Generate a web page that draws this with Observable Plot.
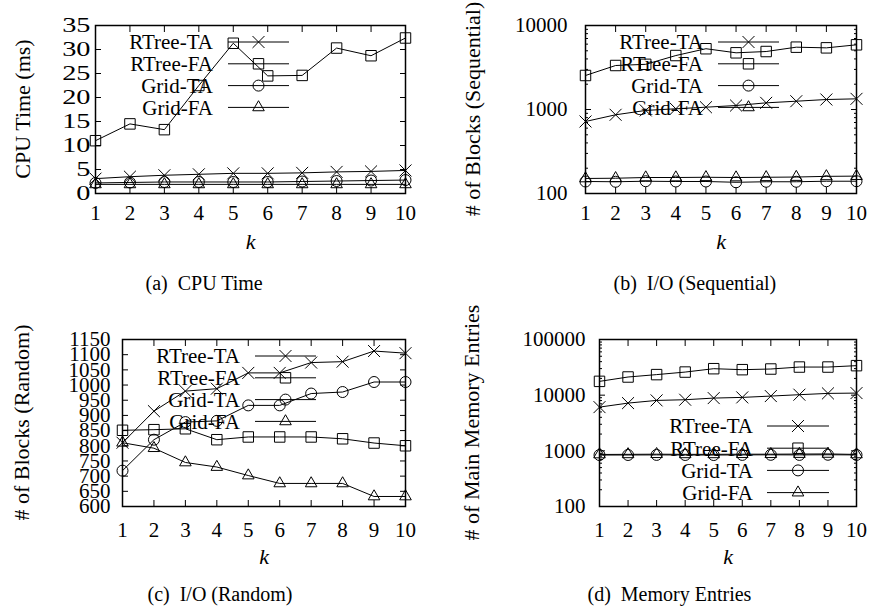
<!DOCTYPE html>
<html><head><meta charset="utf-8">
<script src="https://cdn.jsdelivr.net/npm/d3@7"></script>
<script src="https://cdn.jsdelivr.net/npm/@observablehq/plot@0.6"></script>
<style>
body{margin:0;background:#fff;}
#fig{position:relative;width:869px;height:616px;overflow:hidden;background:#fff;}
#fig svg{position:absolute;}
#fig svg, #fig svg text{font-family:'Liberation Serif','Times New Roman',serif !important;}
</style></head><body><div id="fig"></div>
<script>
// ---------- data ----------
const ks = [1, 2, 3, 4, 5, 6, 7, 8, 9, 10];
const seriesNames = ["RTree-TA", "RTree-FA", "Grid-TA", "Grid-FA"];
const seriesSymbols = ["times", "square", "circle", "triangle"];

// (a) CPU time (ms)
const cpuRTreeTA = [3.1, 3.5, 3.8, 4.0, 4.2, 4.2, 4.3, 4.5, 4.6, 4.8];
const cpuRTreeFA = [11.0, 14.5, 13.3, 22.5, 31.3, 24.5, 24.6, 30.3, 28.7, 32.4];
const cpuGridTA = [2.2, 2.3, 2.4, 2.4, 2.4, 2.4, 2.5, 2.6, 2.7, 2.8];
const cpuGridFA = [1.9, 1.9, 1.9, 1.9, 1.9, 1.9, 1.9, 1.9, 1.9, 1.9];
const cpuTicks = [0, 5, 10, 15, 20, 25, 30, 35];

// (b) I/O sequential (# blocks)
const seqRTreeTA = [720, 865, 975, 1020, 1065, 1115, 1200, 1255, 1315, 1340];
const seqRTreeFA = [2540, 3340, 3450, 4390, 5290, 4730, 4900, 5520, 5420, 5890];
const seqGridTA = [139, 138, 140, 139, 139, 136, 138, 138, 140, 140];
const seqGridFA = [151, 152, 155, 155, 156, 155, 156, 157, 160, 161];
const seqTicks = [100, 1000, 10000];
const seqMinorTicks = [200, 300, 400, 500, 600, 700, 800, 900, 2000, 3000, 4000, 5000, 6000, 7000, 8000, 9000];

// (c) I/O random (# blocks)
const rndRTreeTA = [810, 914, 980, 988, 1040, 1040, 1074, 1077, 1112, 1105];
const rndRTreeFA = [851, 853, 856, 820, 829, 829, 829, 823, 809, 800];
const rndGridTA = [718, 820, 878, 882, 933, 933, 972, 977, 1010, 1010];
const rndGridFA = [810, 792, 745, 730, 702, 676, 676, 676, 633, 633];
const rndTicks = [600, 650, 700, 750, 800, 850, 900, 950, 1000, 1050, 1100, 1150];

// (d) main memory entries
const memRTreeTA = [6100, 7200, 8050, 8280, 8860, 9120, 9630, 10200, 10760, 10900];
const memRTreeFA = [17700, 21200, 23400, 26000, 29900, 28700, 29500, 32000, 32000, 33900];
const memGridTA = [840, 842, 845, 842, 840, 845, 848, 845, 850, 845];
const memGridFA = [860, 865, 870, 865, 865, 870, 870, 875, 880, 862];
const memTicks = [100, 1000, 10000, 100000];
const memMinorTicks = [200, 300, 400, 500, 600, 700, 800, 900, 2000, 3000, 4000, 5000, 6000, 7000, 8000, 9000, 20000, 30000, 40000, 50000, 60000, 70000, 80000, 90000];

// ---------- styling ----------
const FONT = "'Liberation Serif', 'Times New Roman', serif";
const radii = {times: 5.5, square: 5.9, circle: 5.5, triangle: 4.3};
const d3Symbols = {times: d3.symbolTimes, square: d3.symbolSquare, circle: d3.symbolCircle, triangle: d3.symbolTriangle};

function legendMark(lg) {
  return (index, scales, values, dims) => {
    const g = d3.create("svg:g");
    const fl = dims.marginLeft, fr = dims.width - dims.marginRight;
    const ft = dims.marginTop, fb = dims.height - dims.marginBottom;
    const bx = lg.xRef === "left" ? fl : fr;
    const by = lg.yRef === "top" ? ft : fb;
    seriesNames.forEach((name, i) => {
      const y = by + lg.row0 + i * lg.step;
      g.append("text").attr("x", bx + lg.textEnd).attr("y", y).attr("dy", "0.35em")
        .attr("text-anchor", "end").attr("font-size", 21).attr("fill", "black").text(name);
      g.append("line").attr("x1", bx + lg.lineStart).attr("x2", bx + lg.lineEnd)
        .attr("y1", y).attr("y2", y).attr("stroke", "black").attr("stroke-width", 1);
      const s = seriesSymbols[i], r = radii[s];
      g.append("path").attr("transform", `translate(${bx + (lg.lineStart + lg.lineEnd) / 2},${y})`)
        .attr("d", d3.symbol(d3Symbols[s], Math.PI * r * r)())
        .attr("fill", "none").attr("stroke", "black").attr("stroke-width", 1);
    });
    return g.node();
  };
}

function yLabelMark(label, offset) {
  return (index, scales, values, dims) => {
    const x = dims.marginLeft + offset;
    const y = (dims.marginTop + dims.height - dims.marginBottom) / 2;
    return d3.create("svg:text")
      .attr("transform", `translate(${x},${y}) rotate(-90)`)
      .attr("text-anchor", "middle").attr("dy", "0.35em")
      .attr("font-size", 22).attr("fill", "black").text(label).node();
  };
}

function panel(cfg) {
  const marks = [];
  cfg.series.forEach((vals, i) => {
    const rows = ks.map((k, j) => ({k, v: vals[j]}));
    marks.push(Plot.line(rows, {x: "k", y: "v", stroke: "black", strokeWidth: 1}));
    marks.push(Plot.dot(rows, {x: "k", y: "v", symbol: seriesSymbols[i], r: radii[seriesSymbols[i]], stroke: "black", fill: "none", strokeWidth: 1}));
  });
  // axes: inward ticks on all sides
  marks.push(Plot.axisX(ks, {anchor: "bottom", tickSize: -6, fill: "none", label: null}));
  marks.push(Plot.axisX(ks, {anchor: "top", tickSize: -6, fill: "none", label: null}));
  marks.push(Plot.axisX(ks, {anchor: "bottom", tickSize: 0, tickPadding: cfg.xPad, label: null, fontSize: 21, tickFormat: d => String(d)}));
  marks.push(Plot.axisY(cfg.ticks, {anchor: "left", tickSize: -6, fill: "none", label: null}));
  marks.push(Plot.axisY(cfg.ticks, {anchor: "right", tickSize: -6, fill: "none", label: null}));
  if (cfg.minor) {
    marks.push(Plot.axisY(cfg.minor, {anchor: "left", tickSize: -3, fill: "none", label: null}));
    marks.push(Plot.axisY(cfg.minor, {anchor: "right", tickSize: -3, fill: "none", label: null}));
  }
  marks.push(Plot.axisY(cfg.ticks, {anchor: "left", tickSize: 0, tickPadding: cfg.yPad, label: null, fontSize: 21, tickFormat: d => String(d)}));
  marks.push(Plot.frame({stroke: "black", strokeWidth: 1.5}));
  marks.push(yLabelMark(cfg.yLabel, cfg.yLabelDx));
  marks.push(Plot.text(["k"], {text: d => d, frameAnchor: "bottom", dy: cfg.kDy, fontSize: 22, fontStyle: "italic"}));
  marks.push(Plot.text([cfg.caption], {text: d => d, frameAnchor: "bottom-left", textAnchor: "start", dx: cfg.capDx, dy: cfg.capDy, fontSize: 20}));
  marks.push(legendMark(cfg.legend));

  const svg = Plot.plot({
    width: cfg.width, height: cfg.height,
    marginTop: cfg.m[0], marginRight: cfg.m[1], marginBottom: cfg.m[2], marginLeft: cfg.m[3],
    x: {domain: [1, 10]},
    y: {type: cfg.yType, domain: cfg.yDomain},
    style: {fontFamily: FONT, fontSize: "21px", color: "black", background: "transparent", overflow: "visible"},
    marks
  });
  svg.style.left = cfg.left + "px";
  svg.style.top = cfg.top + "px";
  if (cfg.stretch) {
    svg.querySelectorAll('[aria-label="y-axis tick label"] text').forEach(t => {
      const tr = t.getAttribute("transform") || "";
      t.setAttribute("transform", tr + ` scale(${cfg.stretch},1)`);
    });
  }
  document.getElementById("fig").appendChild(svg);
}

const legTop = {xRef: "left", textEnd: 118, lineStart: 133, lineEnd: 194, yRef: "top", row0: 17, step: 21.8};
const legBottom = {xRef: "right", textEnd: -103, lineStart: -89, lineEnd: -27, yRef: "bottom", row0: -80, step: 22.2};

panel({left: 0, top: 0, width: 434, height: 300, m: [25, 29, 107, 95],
  yType: "linear", yDomain: [0, 35], ticks: cpuTicks,
  series: [cpuRTreeTA, cpuRTreeFA, cpuGridTA, cpuGridFA],
  yLabel: "CPU Time (ms)", yLabelDx: -73, yPad: 5, xPad: 12, stretch: 1.35,
  kDy: 55, caption: "(a)\u2002CPU Time", capDx: 50, capDy: 96, legend: legTop});

panel({left: 434, top: 0, width: 435, height: 300, m: [25, 13, 107, 151],
  yType: "log", yDomain: [100, 10000], ticks: seqTicks, minor: seqMinorTicks,
  series: [seqRTreeTA, seqRTreeFA, seqGridTA, seqGridFA],
  yLabel: "# of Blocks (Sequential)", yLabelDx: -113, yPad: 18, xPad: 12,
  kDy: 55, caption: "(b)\u2002I/O (Sequential)", capDx: 28, capDy: 96, legend: legTop});

panel({left: 0, top: 300, width: 434, height: 316, m: [39, 29, 110, 122],
  yType: "linear", yDomain: [600, 1150], ticks: rndTicks,
  series: [rndRTreeTA, rndRTreeFA, rndGridTA, rndGridFA],
  yLabel: "# of Blocks (Random)", yLabelDx: -101, yPad: 12, xPad: 16,
  kDy: 57, caption: "(c)\u2002I/O (Random)", capDx: 25, capDy: 94, legend: legTop});

panel({left: 434, top: 300, width: 435, height: 316, m: [39, 13, 110, 165],
  yType: "log", yDomain: [100, 100000], ticks: memTicks, minor: memMinorTicks,
  series: [memRTreeTA, memRTreeFA, memGridTA, memGridFA],
  yLabel: "# of Main Memory Entries", yLabelDx: -128, yPad: 14, xPad: 16,
  kDy: 57, caption: "(d)\u2002Memory Entries", capDx: -12, capDy: 94, legend: legBottom});
</script></body></html>
